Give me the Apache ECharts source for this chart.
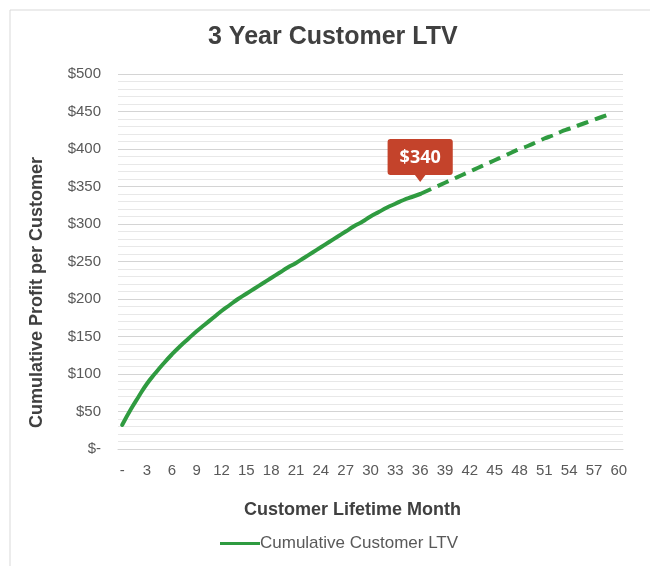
<!DOCTYPE html>
<html>
<head>
<meta charset="utf-8">
<script src="https://cdn.jsdelivr.net/npm/echarts@6/dist/echarts.min.js"></script>
<style>
    html, body { margin: 0; padding: 0; background: #fff; }
    #chart { width: 650px; height: 566px; }
</style>
</head>
<body>
<div id="chart"></div>
<script>
    // month labels on the x axis (0 shows as "-")
    const months = [];
    for (let m = 0; m <= 60; m++) months.push(m);

    // cumulative profit per customer
    const ltv = [32, 52, 70, 87, 101, 114, 126, 137, 147, 157,
                 166, 175, 184, 192, 200, 207, 214, 221, 228, 235,
                 242, 248, 255, 262, 269, 276, 283, 290, 297, 303,
                 310, 316, 322, 327, 332, 336, 340, 345, 350, 355,
                 360, 365, 370, 375, 380, 385, 390, 395, 400, 404,
                 409, 414, 418, 423, 427, 431, 435, 439, 443, 447];

    const splitIndex = 36;   // actuals end here, projection after
    const calloutText = '$340';

    const green = '#2f9b40';
    const calloutRed = '#c4432b';
    const textColor = '#595959';

    const actual = ltv.map((v, i) => i <= splitIndex ? v : null);
    const projected = ltv.map((v, i) => i >= splitIndex ? v : null);

    const chart = echarts.init(document.getElementById('chart'));

    chart.setOption({
        animation: false,
        graphic: [{
            type: 'rect',
            shape: { x: 10, y: 10, width: 700, height: 600 },
            style: { fill: 'none', stroke: '#d9d9d9', lineWidth: 1 }
        }],
        title: {
            text: '3 Year Customer LTV',
            left: 203,
            top: 20,
            textStyle: {
                fontFamily: 'Liberation Sans',
                fontSize: 25,
                fontWeight: 'bold',
                color: '#404040'
            }
        },
        legend: {
            bottom: 9,
            left: 215,
            data: [{ name: 'Cumulative Customer LTV', icon: 'rect' }],
            itemWidth: 40,
            itemHeight: 3,
            itemGap: 0,
            textStyle: {
                fontFamily: 'Liberation Sans',
                fontSize: 17,
                color: textColor,
                padding: [0, 0, 0, -5]
            }
        },
        grid: {
            left: 118,
            right: 27,
            top: 74,
            bottom: 117
        },
        xAxis: {
            type: 'category',
            data: months,
            boundaryGap: true,
            name: 'Customer Lifetime Month',
            nameLocation: 'middle',
            nameGap: 52,
            nameTextStyle: {
                fontFamily: 'Liberation Sans',
                fontSize: 18,
                fontWeight: 'bold',
                color: '#404040',
                padding: [0, 36, 0, 0]
            },
            axisLine: { lineStyle: { color: '#d4d4d4' } },
            axisTick: { show: false },
            axisLabel: {
                interval: 2,
                margin: 14,
                fontFamily: 'Liberation Sans',
                fontSize: 15,
                color: textColor,
                formatter: v => v === '0' ? '-' : v
            }
        },
        yAxis: {
            type: 'value',
            min: 0,
            max: 500,
            interval: 50,
            name: 'Cumulative Profit per Customer',
            nameLocation: 'middle',
            nameGap: 72,
            nameTextStyle: {
                fontFamily: 'Liberation Sans',
                fontSize: 18,
                fontWeight: 'bold',
                color: '#404040',
                padding: [0, 62, 0, 0]
            },
            axisLine: { show: false },
            axisTick: { show: false },
            axisLabel: {
                margin: 17,
                fontFamily: 'Liberation Sans',
                fontSize: 15,
                color: textColor,
                formatter: v => v === 0 ? '$-' : '$' + v
            },
            splitLine: { lineStyle: { color: '#d4d4d4', width: 1 } },
            minorTick: { show: false, splitNumber: 5 },
            minorSplitLine: { show: true, lineStyle: { color: '#e8e8e8', width: 1 } }
        },
        series: [
            {
                name: 'Cumulative Customer LTV',
                type: 'line',
                data: actual,
                showSymbol: false,
                smooth: true,
                color: green,
                lineStyle: { width: 4, color: green, cap: 'round' },
                z: 3
            },
            {
                name: 'Cumulative Customer LTV',
                type: 'line',
                data: projected,
                showSymbol: false,
                smooth: true,
                color: green,
                lineStyle: { width: 4, color: green, type: [12, 7] },
                markPoint: {
                    silent: true,
                    data: [{ coord: [splitIndex, ltv[splitIndex]] }],
                    symbol: 'triangle',
                    symbolRotate: 180,
                    symbolSize: [12, 8],
                    symbolOffset: [0, -16],
                    itemStyle: { color: calloutRed },
                    label: {
                        show: true,
                        position: 'top',
                        distance: -1,
                        formatter: calloutText,
                        backgroundColor: calloutRed,
                        borderRadius: 3,
                        padding: [10, 12, 8, 12],
                        color: '#fff',
                        fontFamily: 'Open Sans',
                        fontWeight: 'bold',
                        fontSize: 18
                    }
                },
                z: 3
            }
        ]
    });
</script>
</body>
</html>
